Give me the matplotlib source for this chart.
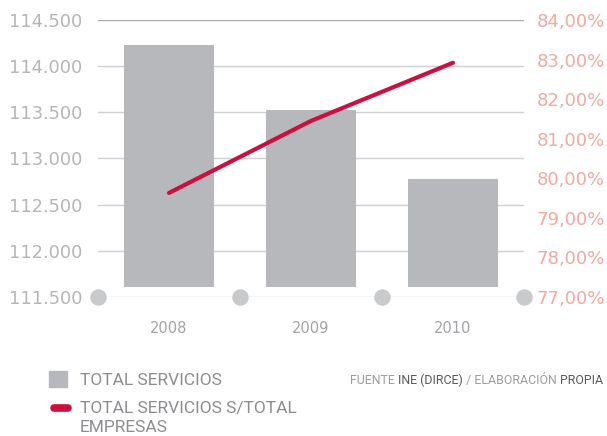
import matplotlib
matplotlib.use("Agg")
import matplotlib.pyplot as plt
from matplotlib.lines import Line2D
from matplotlib.patches import Rectangle

# datos
anios = ["2008", "2009", "2010"]
total_servicios = [114230, 113525, 112775]
pct_servicios = [79.63, 81.45, 82.92]
base_barras = 111610

izq_ticks = [111500, 112000, 112500, 113000, 113500, 114000, 114500]
der_ticks = [77, 78, 79, 80, 81, 82, 83, 84]

gris_barra = "#b7b8bb"
rojo = "#cc0f3f"
gris_txt = "#b5b6b9"
salmon = "#f0aaa0"

plt.rcParams["font.family"] = ["DejaVu Sans"]

fig = plt.figure(figsize=(6.07, 4.36), dpi=100)
ax = fig.add_axes([98 / 607, 1 - 297 / 436, 426 / 607, 277 / 436])
x = list(range(len(anios)))

ax.set_xlim(-0.5, 2.5)
ax.set_ylim(111500, 114500)
for t in izq_ticks:
    c = "#a9aaae" if t == 114500 else "#cfd0d2"
    ax.axhline(t, color=c, lw=1.0, zorder=0)

ax.bar(x, [v - base_barras for v in total_servicios], bottom=base_barras,
       width=0.63, color=gris_barra, zorder=2)

for s in ax.spines.values():
    s.set_visible(False)
ax.set_yticks(izq_ticks)
ax.set_yticklabels([f"{t:,}".replace(",", ".") for t in izq_ticks],
                   fontsize=12.8, color=gris_txt)
ax.tick_params(axis="y", length=0, pad=11)
ax.set_xticks(x)
ax.set_xticklabels(anios, fontsize=10.5, color="#a2a3a6")
ax.tick_params(axis="x", length=0, pad=17)

# circulos en el eje inferior
ax.scatter([-0.5, 0.5, 1.5, 2.5], [111500] * 4, s=140, color="#c9cacc",
           zorder=3, clip_on=False, linewidths=0)

ax2 = ax.twinx()
ax2.set_ylim(77, 84)
ax2.plot(x, pct_servicios, color=rojo, lw=3, solid_capstyle="round", zorder=4)
for s in ax2.spines.values():
    s.set_visible(False)
ax2.set_yticks(der_ticks)
ax2.set_yticklabels([f"{t},00%" for t in der_ticks], fontsize=13, color=salmon)
ax2.tick_params(axis="y", length=0, pad=9)

# leyenda
fig.patches.append(Rectangle((49 / 607, 1 - 387 / 436), 18 / 607, 16 / 436,
                             transform=fig.transFigure, color=gris_barra))
fig.lines.append(Line2D([54 / 607, 68 / 607], [1 - 408 / 436] * 2,
                        transform=fig.transFigure, color=rojo, lw=5.5,
                        solid_capstyle="round"))
fig.text(80 / 607, 1 - 380 / 436, "TOTAL SERVICIOS", fontsize=12.5,
         family="Roboto", color="#8c8d90", va="center")
fig.text(80 / 607, 1 - 408 / 436, "TOTAL SERVICIOS S/TOTAL", fontsize=12.5,
         family="Roboto", color="#8c8d90", va="center")
fig.text(80 / 607, 1 - 427 / 436, "EMPRESAS", fontsize=12.5,
         family="Roboto", color="#8c8d90", va="center")

# fuente (alineada a la derecha)
partes = [("FUENTE ", "#9c9da0"), ("INE (DIRCE)", "#58595c"),
          (" / ELABORACIÓN ", "#9c9da0"), ("PROPIA", "#58595c")]
fig.canvas.draw()
r = fig.canvas.get_renderer()
textos = []
for txt, col in partes:
    textos.append(fig.text(0, 1 - 380 / 436, txt, fontsize=8.9, family="Roboto",
                           color=col, va="center"))
anchos = [t.get_window_extent(r).width for t in textos]
xpos = 603 - sum(anchos)
for t, w in zip(textos, anchos):
    t.set_x(xpos / 607)
    xpos += w

fig.savefig("out.png", dpi=100)
